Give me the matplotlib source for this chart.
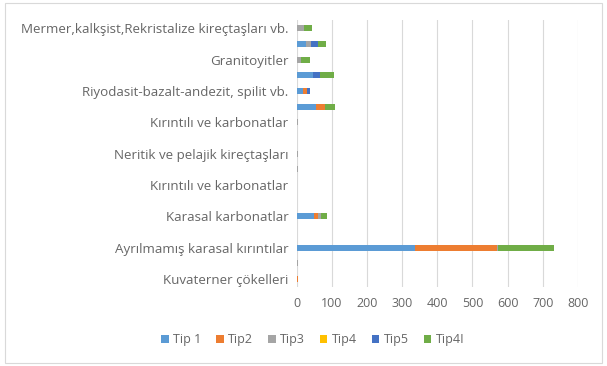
import numpy as np
import matplotlib
matplotlib.use("Agg")
import matplotlib.pyplot as plt
from matplotlib.patches import Rectangle

# Categories, bottom to top (only every second one carries a label)
categories = [
    "Kuvaterner çökelleri", "",
    "Ayrılmamış karasal kırıntılar", "",
    "Karasal karbonatlar", "",
    "Kırıntılı ve karbonatlar", "",
    "Neritik ve pelajik kireçtaşları", "",
    "Kırıntılı ve karbonatlar", "",
    "Riyodasit-bazalt-andezit, spilit vb.", "",
    "Granitoyitler", "",
    "Mermer,kalkşist,Rekristalize kireçtaşları vb.",
]

tip1 = [0, 0, 336, 0, 48, 0, 0, 0, 0, 0, 0, 55, 18, 45, 0, 25, 0]
tip2 = [3, 0, 233, 0, 12, 0, 0, 0, 0, 0, 0, 25, 10, 0, 0, 0, 0]
tip3 = [0, 3, 5, 0, 8, 0, 0, 3, 3, 0, 2, 0, 0, 0, 12, 15, 20]
tip4 = [0, 0, 0, 0, 0, 0, 0, 0, 0, 0, 0, 0, 0, 0, 0, 0, 0]
tip5 = [0, 0, 0, 0, 0, 0, 0, 0, 0, 0, 0, 0, 10, 20, 0, 20, 0]
tip4i = [0, 0, 157, 0, 17, 0, 0, 0, 0, 0, 0, 28, 0, 42, 25, 22, 22]

series = [
    ("Tip 1", tip1, "#5B9BD5"),
    ("Tip2", tip2, "#ED7D31"),
    ("Tip3", tip3, "#A5A5A5"),
    ("Tip4", tip4, "#FFC000"),
    ("Tip5", tip5, "#4472C4"),
    ("Tip4I", tip4i, "#70AD47"),
]

text_color = "#666666"
plt.rcParams["font.family"] = ["Open Sans", "DejaVu Sans"]

fig = plt.figure(figsize=(6.07, 3.66), dpi=100)
ax = fig.add_axes([0.489, 0.216, 0.463, 0.728])

y = np.arange(len(categories))
left = np.zeros(len(categories))
for name, vals, color in series:
    vals = np.array(vals, dtype=float)
    ax.barh(y, vals, left=left, height=0.38, color=color, label=name, zorder=3)
    left += vals

ax.set_xlim(0, 800)
ax.set_ylim(-0.5, len(categories) - 0.5)
ax.set_xticks(np.arange(0, 801, 100))
ax.set_yticks(y)
ax.set_yticklabels(categories)
ax.tick_params(axis="both", length=0, colors=text_color)
ax.tick_params(axis="y", pad=6, labelsize=9.6)
ax.tick_params(axis="x", pad=7, labelsize=9)
ax.grid(axis="x", color="#D9D9D9", linewidth=0.8, zorder=0)
for side in ax.spines.values():
    side.set_visible(False)

leg = fig.legend(loc="center", bbox_to_anchor=(0.515, 0.072), ncol=6, frameon=False,
                 fontsize=9, handlelength=0.6, handleheight=0.6,
                 handletextpad=0.35, columnspacing=1.2)
for t in leg.get_texts():
    t.set_color(text_color)

# light chart-area border
fig.patches.append(Rectangle((0.008, 0.008), 0.984, 0.984, transform=fig.transFigure,
                             fill=False, edgecolor="#D9D9D9", linewidth=0.8))

fig.savefig("out.png", dpi=100)
